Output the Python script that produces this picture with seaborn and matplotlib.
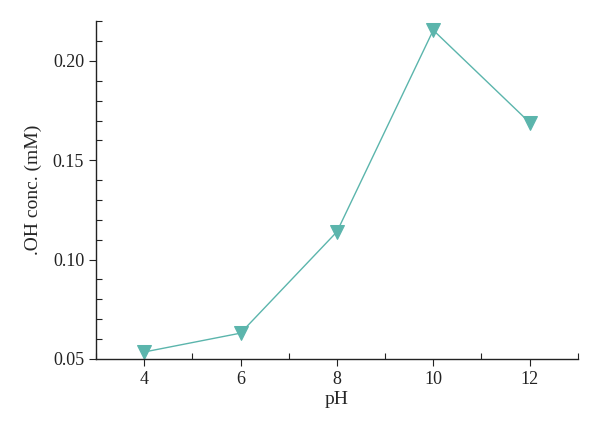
import numpy as np
import pandas as pd
import matplotlib
matplotlib.use("Agg")
import matplotlib.pyplot as plt
import seaborn as sns
from matplotlib.ticker import MultipleLocator

# Dados
ph = [4, 6, 8, 10, 12]
oh_conc = [0.0535, 0.063, 0.114, 0.2155, 0.169]
x_ticks = [4, 6, 8, 10, 12]
y_ticks = [0.05, 0.10, 0.15, 0.20]

df = pd.DataFrame({"pH": ph, "conc": oh_conc})

sns.set_style("ticks")
plt.rcParams["font.family"] = ["Liberation Serif", "DejaVu Serif"]

fig = plt.figure(figsize=(6, 4.33), dpi=100)
ax = fig.add_axes([0.16, 0.171, 0.803, 0.78])

# Linha com marcadores triangulares
sns.lineplot(
    x="pH",
    y="conc",
    data=df,
    ax=ax,
    color="#5bb5ac",
    marker="v",
    markersize=10,
    markeredgecolor="#5bb5ac",
    linewidth=1.0,
)

ax.set_xlim(3, 13)
ax.set_ylim(0.05, 0.22)
ax.set_xticks(x_ticks)
ax.set_yticks(y_ticks)
ax.set_yticklabels([f"{v:.2f}" for v in y_ticks])
ax.xaxis.set_minor_locator(MultipleLocator(1))
ax.yaxis.set_minor_locator(MultipleLocator(0.01))

ax.tick_params(which="major", direction="out", length=5, width=0.8, labelsize=13, colors="#222222")
ax.tick_params(which="minor", direction="in", length=4, width=0.8, colors="#222222")

sns.despine(ax=ax)
for s in ["left", "bottom"]:
    ax.spines[s].set_linewidth(1.0)
    ax.spines[s].set_color("#222222")

ax.set_xlabel("pH", fontsize=14, labelpad=2)
ax.set_ylabel(".OH conc. (mM)", fontsize=14, labelpad=8)

plt.savefig("out.png", dpi=100)
